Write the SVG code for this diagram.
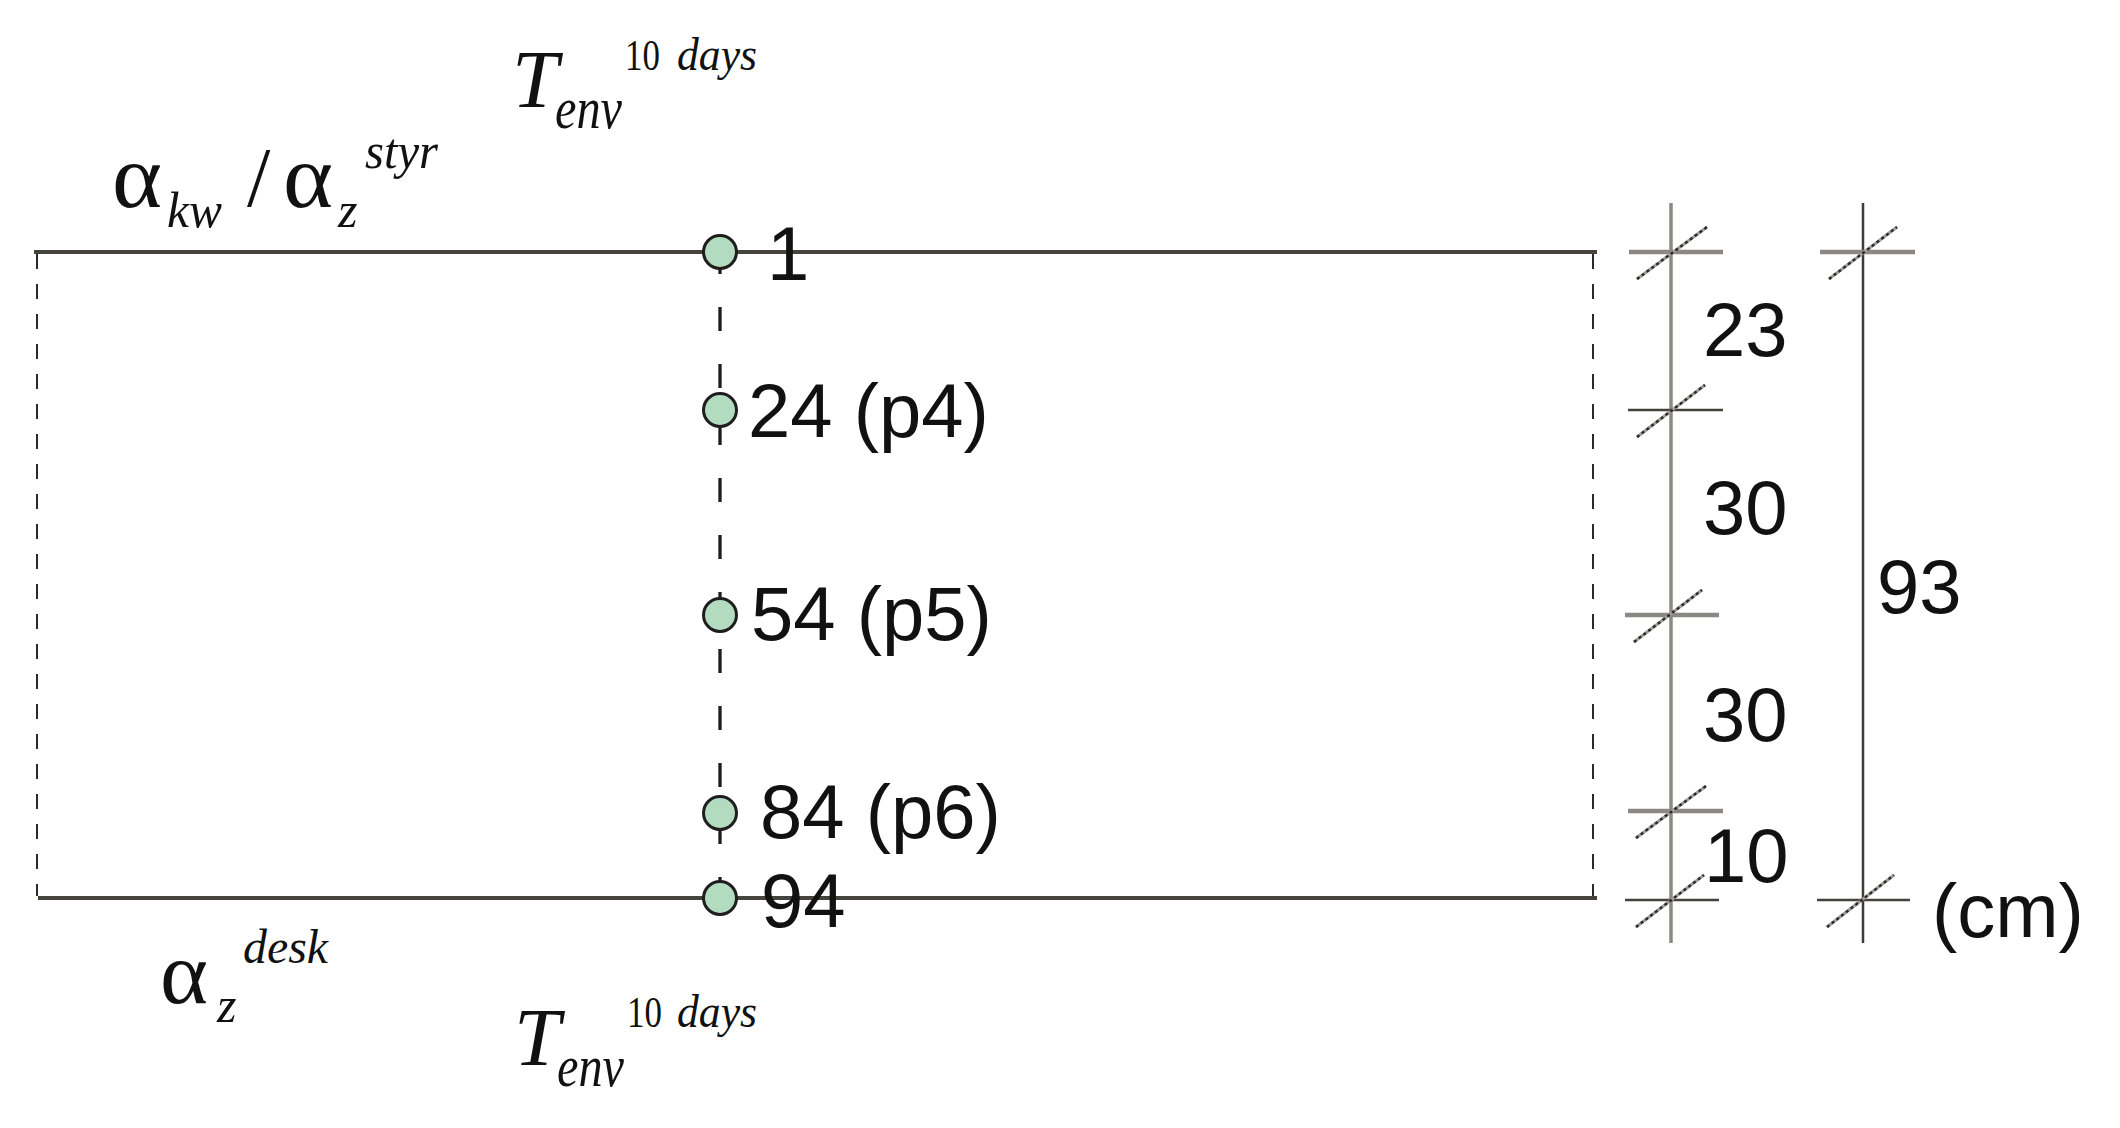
<svg xmlns="http://www.w3.org/2000/svg" width="2120" height="1128" viewBox="0 0 2120 1128">
<style>
.bg{fill:#ffffff}
.slab{stroke:#46433e;stroke-width:4;fill:none}
.edge{stroke:#2a2a2a;stroke-width:2;stroke-dasharray:15 15;fill:none}
.axis{stroke:#1e1e1e;stroke-width:3.3;stroke-dasharray:24 33;fill:none}
.pt{fill:#b3dbbf;stroke:#1e1e1e;stroke-width:3}
.lbl{font-family:"Liberation Sans",Arial,sans-serif;font-size:76px;fill:#111}
.m{font-family:"Liberation Serif","Times New Roman",serif;fill:#111}
.it{font-style:italic}
.dimA{stroke:#8c8883;stroke-width:3.5;fill:none}
.dimB{stroke:#3f3c38;stroke-width:2.5;fill:none}
.tkG{stroke:#8c8883;stroke-width:4.5;fill:none}
.tkD{stroke:#45423d;stroke-width:2.5;fill:none}
.slB{stroke:#a09c97;stroke-width:3;fill:none}
.slD{stroke:#2e2c29;stroke-width:2.5;stroke-dasharray:3 3;fill:none}
</style>
<rect class="bg" x="0" y="0" width="2120" height="1128"/>

<g id="slab">
  <line class="slab" x1="34" y1="252" x2="1597" y2="252"/>
  <line class="slab" x1="38" y1="898" x2="1597" y2="898"/>
  <line class="edge" x1="37" y1="254" x2="37" y2="896"/>
  <line class="edge" x1="1593" y1="254" x2="1593" y2="896"/>
</g>

<g id="connectors">
  <line class="axis" x1="720" y1="250" x2="720" y2="898"/>
</g>

<g id="node-1">
  <circle class="pt" cx="720" cy="252" r="16.5"/>
  <text class="lbl" x="767" y="280">1</text>
</g>
<g id="node-24">
  <circle class="pt" cx="720" cy="410" r="16.5"/>
  <text class="lbl" x="748" y="437">24 (p4)</text>
</g>
<g id="node-54">
  <circle class="pt" cx="720" cy="615" r="16.5"/>
  <text class="lbl" x="751" y="640">54 (p5)</text>
</g>
<g id="node-84">
  <circle class="pt" cx="720" cy="813" r="16.5"/>
  <text class="lbl" x="760" y="838">84 (p6)</text>
</g>
<g id="node-94">
  <circle class="pt" cx="720" cy="898" r="16.5"/>
  <text class="lbl" x="761" y="927">94</text>
</g>

<g id="label-top-alpha">
  <text class="m" x="112" y="207" font-size="90" textLength="50" lengthAdjust="spacingAndGlyphs">α</text>
  <text class="m it" x="167" y="227" font-size="50" textLength="55" lengthAdjust="spacingAndGlyphs">kw</text>
  <text class="m" x="247" y="206" font-size="84">/</text>
  <text class="m" x="283" y="207" font-size="90" textLength="50" lengthAdjust="spacingAndGlyphs">α</text>
  <text class="m it" x="338" y="227" font-size="50">z</text>
  <text class="m it" x="365" y="168" font-size="50" textLength="73" lengthAdjust="spacingAndGlyphs">styr</text>
</g>

<g id="label-top-T">
  <text class="m it" x="512" y="107" font-size="83">T</text>
  <text class="m it" x="555" y="128" font-size="60" textLength="67" lengthAdjust="spacingAndGlyphs">env</text>
  <text class="m" x="625" y="70" font-size="45" textLength="35" lengthAdjust="spacingAndGlyphs">10</text>
  <text class="m it" x="677" y="70" font-size="46" textLength="80" lengthAdjust="spacingAndGlyphs">days</text>
</g>

<g id="label-bottom-alpha">
  <text class="m" x="160" y="1003" font-size="88" textLength="48" lengthAdjust="spacingAndGlyphs">α</text>
  <text class="m it" x="217" y="1022" font-size="50">z</text>
  <text class="m it" x="243" y="963" font-size="48" textLength="85" lengthAdjust="spacingAndGlyphs">desk</text>
</g>

<g id="label-bottom-T">
  <text class="m it" x="514" y="1065" font-size="83">T</text>
  <text class="m it" x="557" y="1086" font-size="60" textLength="67" lengthAdjust="spacingAndGlyphs">env</text>
  <text class="m" x="627" y="1027" font-size="45" textLength="35" lengthAdjust="spacingAndGlyphs">10</text>
  <text class="m it" x="677" y="1027" font-size="46" textLength="80" lengthAdjust="spacingAndGlyphs">days</text>
</g>

<g id="dimension-parts">
  <line class="dimA" x1="1671" y1="203" x2="1671" y2="943"/>
  <line class="tkG" x1="1629" y1="252" x2="1723" y2="252"/>
  <line class="tkD" x1="1628" y1="410" x2="1723" y2="410"/>
  <line class="tkG" x1="1625" y1="615" x2="1719" y2="615"/>
  <line class="tkG" x1="1628" y1="811" x2="1723" y2="811"/>
  <line class="tkD" x1="1625" y1="900" x2="1719" y2="900"/>
  <line class="slB" x1="1637" y1="279" x2="1707" y2="227"/>
  <line class="slD" x1="1637" y1="279" x2="1707" y2="227"/>
  <line class="slB" x1="1637" y1="437" x2="1705" y2="385"/>
  <line class="slD" x1="1637" y1="437" x2="1705" y2="385"/>
  <line class="slB" x1="1634" y1="642" x2="1702" y2="590"/>
  <line class="slD" x1="1634" y1="642" x2="1702" y2="590"/>
  <line class="slB" x1="1636" y1="838" x2="1706" y2="786"/>
  <line class="slD" x1="1636" y1="838" x2="1706" y2="786"/>
  <line class="slB" x1="1636" y1="927" x2="1704" y2="875"/>
  <line class="slD" x1="1636" y1="927" x2="1704" y2="875"/>
  <text class="lbl" x="1703" y="356">23</text>
  <text class="lbl" x="1703" y="534">30</text>
  <text class="lbl" x="1703" y="741">30</text>
  <text class="lbl" x="1704" y="882">10</text>
</g>

<g id="dimension-total">
  <line class="dimB" x1="1863" y1="203" x2="1863" y2="943"/>
  <line class="tkG" x1="1820" y1="252" x2="1915" y2="252"/>
  <line class="tkD" x1="1817" y1="900" x2="1910" y2="900"/>
  <line class="slB" x1="1829" y1="279" x2="1897" y2="227"/>
  <line class="slD" x1="1829" y1="279" x2="1897" y2="227"/>
  <line class="slB" x1="1827" y1="927" x2="1894" y2="875"/>
  <line class="slD" x1="1827" y1="927" x2="1894" y2="875"/>
  <text class="lbl" x="1877" y="613">93</text>
  <text class="lbl" x="1932" y="937">(cm)</text>
</g>
</svg>
